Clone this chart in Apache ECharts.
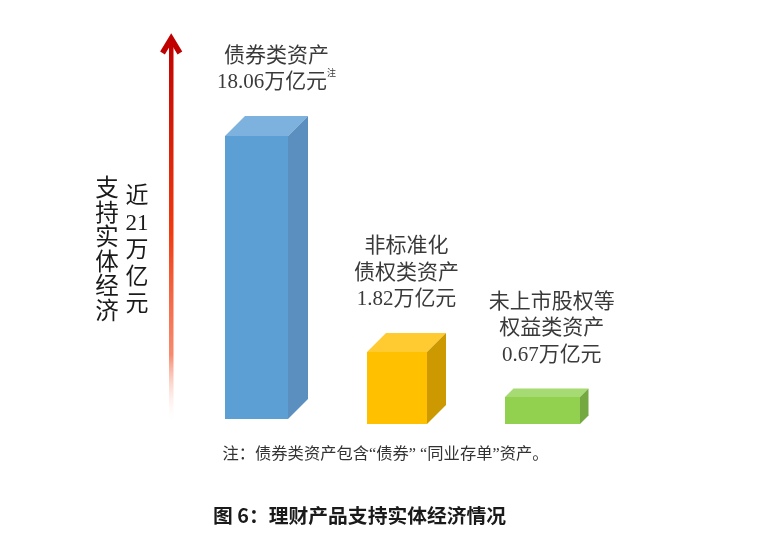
<!DOCTYPE html>
<html>
<head>
<meta charset="utf-8">
<script src="https://cdn.jsdelivr.net/npm/echarts@6/dist/echarts.min.js"></script>
<style>
  html, body { margin: 0; padding: 0; background: #fff; }
  #chart { width: 775px; height: 541px; }
</style>
</head>
<body>
<div id="chart"></div>
<script>
// 数据
const categories = ['债券类资产', '非标准化债权类资产', '未上市股权等权益类资产'];
const labelLines = [['债券类资产'], ['非标准化', '债权类资产'], ['未上市股权等', '权益类资产']];
const amounts = [18.06, 1.82, 0.67];          // 万亿元，标注值
const drawnHeights = [18.06, 4.6, 1.72];      // 原图柱高（示意图，不按比例），同一单位
const amountNotes = ['注', '', ''];
const unit = '万亿元';
const sideText = '支持实体经济';
const totalLines = ['近', '21', '万', '亿', '元'];
const footnote = '注：债券类资产包含“债券” “同业存单”资产。';
const title = '图 6：理财产品支持实体经济情况';

// 立方体样式
const boxStyles = [
  { width: 63, depth: 20, lift: 5, dx: 0, labelDx: 10, front: '#5B9FD5', top: '#7DB1DE', side: '#5A8FBF' },
  { width: 60, depth: 19, lift: 0, dx: -2.5, labelDx: 0, front: '#FFC000', top: '#FFCB30', side: '#CC9A00' },
  { width: 75, depth: 8.5, lift: 0, dx: 0, labelDx: 5, front: '#92D050', top: '#A6DA72', side: '#74A840' }
];

const cjk = '"Liberation Serif", "Noto Sans CJK SC", sans-serif';

const chart = echarts.init(document.getElementById('chart'));

// 画立方体柱和上方标签
function renderBox(params, api) {
  const i = params.dataIndex;
  const s = boxStyles[i];
  const topPt = api.coord([i, api.value(1)]);
  const basePt = api.coord([i, 0]);
  const x0 = topPt[0] - s.width / 2 + s.dx;
  const x1 = x0 + s.width;
  const yb = basePt[1] - s.lift;
  const yt = topPt[1] - s.lift;
  const d = s.depth;

  let text = labelLines[i].map(t => '{t|' + t + '}').join('\n');
  text += '\n{t|' + amounts[i] + unit + '}';
  if (amountNotes[i]) text += '{s|' + amountNotes[i] + '}';

  return {
    type: 'group',
    children: [
      { type: 'rect', shape: { x: x0, y: yt, width: s.width, height: yb - yt }, style: { fill: s.front } },
      { type: 'polygon', shape: { points: [[x0, yt], [x0 + d, yt - d], [x1 + d, yt - d], [x1, yt]] }, style: { fill: s.top } },
      { type: 'polygon', shape: { points: [[x1, yt], [x1 + d, yt - d], [x1 + d, yb - d], [x1, yb]] }, style: { fill: s.side } },
      {
        type: 'text',
        style: {
          x: (x0 + x1 + d) / 2 + s.labelDx,
          y: yt - d - 20,
          text: text,
          align: 'center',
          verticalAlign: 'bottom',
          rich: {
            t: { fontSize: 21, lineHeight: 26.5, fontFamily: cjk, fill: '#3a3a3a', align: 'center' },
            s: { fontSize: 9, lineHeight: 26.5, fontFamily: cjk, fill: '#3a3a3a', verticalAlign: 'top', padding: [0, 0, 10, 0] }
          }
        }
      }
    ]
  };
}

const option = {
  animation: false,
  backgroundColor: '#ffffff',
  grid: { left: 185, width: 429, bottom: 117, top: 110.6 },
  xAxis: { type: 'category', data: categories, show: false },
  yAxis: { type: 'value', min: 0, max: 20, show: false },
  series: [
    {
      type: 'custom',
      renderItem: renderBox,
      data: drawnHeights.map((h, i) => [i, h])
    }
  ],
  graphic: [
    // 左侧箭头
    {
      type: 'rect',
      shape: { x: 169, y: 40, width: 4.5, height: 384 },
      style: {
        fill: new echarts.graphic.LinearGradient(0, 0, 0, 1, [
          { offset: 0, color: '#C00000' },
          { offset: 0.5, color: '#F03A10' },
          { offset: 0.82, color: 'rgba(245, 110, 75, 0.8)' },
          { offset: 1, color: 'rgba(255, 255, 255, 0)' }
        ])
      }
    },
    {
      type: 'polyline',
      shape: { points: [[162.5, 53], [171.2, 38.5], [179.9, 53]] },
      style: { stroke: '#C00000', lineWidth: 5.5, fill: 'none', lineJoin: 'miter' }
    },
    {
      type: 'text',
      style: {
        x: 107, y: 177.8,
        text: sideText.split('').join('\n'),
        align: 'center', verticalAlign: 'top',
        fontSize: 23.5, lineHeight: 24.5, fontFamily: cjk, fill: '#1a1a1a'
      }
    },
    {
      type: 'text',
      style: {
        x: 137, y: 183.5,
        text: totalLines.join('\n'),
        align: 'center', verticalAlign: 'top',
        fontSize: 23, lineHeight: 27, fontFamily: cjk, fill: '#1a1a1a'
      }
    },
    // 注释和图题
    {
      type: 'text',
      style: {
        x: 385.5, y: 455,
        text: footnote,
        align: 'center', verticalAlign: 'middle',
        fontSize: 16.3, fontFamily: cjk, fill: '#333'
      }
    },
    {
      type: 'text',
      style: {
        x: 213, y: 515,
        text: title,
        align: 'left', verticalAlign: 'middle',
        fontSize: 19.8, fontWeight: 'bold', fontFamily: '"Noto Sans CJK SC", sans-serif', fill: '#1a1a1a'
      }
    }
  ]
};

chart.setOption(option);
</script>
</body>
</html>
